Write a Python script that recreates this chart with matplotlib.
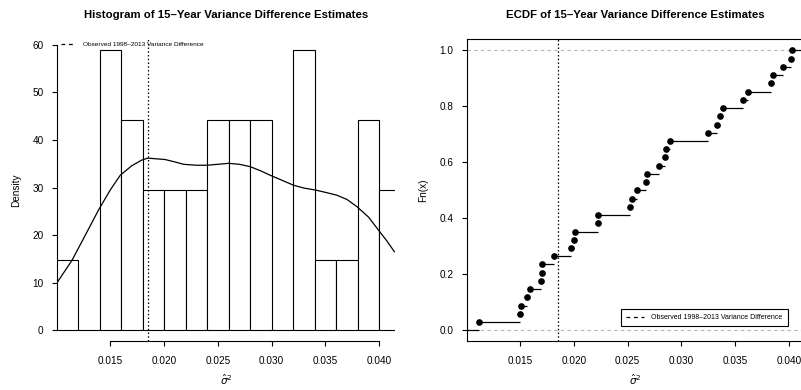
import numpy as np
import matplotlib
matplotlib.use("Agg")
import matplotlib.pyplot as plt
from matplotlib.lines import Line2D

plt.rcParams['font.family'] = ['Liberation Sans', 'DejaVu Sans']

# 34 variance difference estimates (read off the ECDF)
estimates = [0.01122, 0.01500, 0.01509, 0.01562, 0.01590, 0.01698, 0.01701,
             0.01707, 0.01813, 0.01974, 0.02005, 0.02010, 0.02222, 0.02225,
             0.02522, 0.02543, 0.02584, 0.02671, 0.02677, 0.02794, 0.02847,
             0.02856, 0.02894, 0.03249, 0.03333, 0.03355, 0.03389, 0.03575,
             0.03615, 0.03829, 0.03847, 0.03940, 0.04018, 0.04027]
observed = 0.01855

# density curve
dens_x = [0.01005, 0.01144, 0.01268, 0.01391, 0.01500, 0.01593, 0.01700,
          0.01794, 0.01850, 0.01902, 0.02010, 0.02100, 0.02181, 0.02300,
          0.02398, 0.02500, 0.02599, 0.02700, 0.02801, 0.02900, 0.02986,
          0.03100, 0.03203, 0.03300, 0.03404, 0.03500, 0.03606, 0.03700,
          0.03792, 0.03900, 0.03993, 0.04070, 0.04141]
dens_y = [10.0, 14.7, 20.0, 25.3, 29.5, 32.6, 34.6, 35.8, 36.2, 36.1, 35.9,
          35.4, 34.9, 34.7, 34.7, 34.9, 35.1, 34.9, 34.4, 33.5, 32.6, 31.5,
          30.5, 29.9, 29.5, 29.0, 28.4, 27.5, 26.0, 23.8, 21.05, 18.8, 16.5]

bin_edges = [0.010, 0.012, 0.014, 0.016, 0.018, 0.020, 0.022, 0.024, 0.026,
             0.028, 0.030, 0.032, 0.034, 0.036, 0.038, 0.040, 0.042]
xticks = [0.015, 0.020, 0.025, 0.030, 0.035, 0.040]
legend_label = "Observed 1998\u20132013 Variance Difference"

xlim = (0.01005, 0.04146)

fig = plt.figure(figsize=(8.01, 3.9), dpi=100)
ax1 = fig.add_axes([0.07116, 0.12436, 0.42197, 0.7749])
ax2 = fig.add_axes([0.58265, 0.12436, 0.42197, 0.7749])

tick_kw = dict(direction='out', length=3.6, width=0.8, labelsize=7.2, color='black')

# --- histogram
ax1.hist(estimates, bins=bin_edges, density=True, facecolor='white',
         edgecolor='black', linewidth=0.8, clip_on=True)
ax1.plot(dens_x, dens_y, color='black', lw=0.9)
ax1.axvline(observed, color='black', lw=0.9, ls=(0, (1.2, 1.8)))
ax1.set_xlim(*xlim)
ax1.set_ylim(-2.353, 61.18)
ax1.set_xticks(xticks)
ax1.set_xticklabels(["%.3f" % t for t in xticks])
ax1.set_yticks([0, 10, 20, 30, 40, 50, 60])
for s in ['top', 'right']:
    ax1.spines[s].set_visible(False)
ax1.spines['left'].set_bounds(0, 60)
ax1.spines['bottom'].set_bounds(0.015, 0.040)
for s in ['left', 'bottom']:
    ax1.spines[s].set_linewidth(0.8)
ax1.tick_params(axis='x', pad=7, **tick_kw)
ax1.tick_params(axis='y', pad=6, **tick_kw)
ax1.set_title("Histogram of 15\u2013Year Variance Difference Estimates",
              fontsize=8.2, fontweight='bold', pad=15)
ax1.set_ylabel("Density", fontsize=7.2, labelpad=8)
ax1.set_xlabel(r"$\hat{\sigma}^2$", fontsize=7.5, labelpad=5)
h = Line2D([], [], color='black', lw=0.9, ls=(0, (3, 3)))
ax1.legend([h], [legend_label], loc='upper left', bbox_to_anchor=(0.0, 1.005),
           frameon=False, fontsize=4.65, handlelength=2.4, handletextpad=1.0,
           borderaxespad=0.2)

# --- ECDF
xs = np.sort(np.array(estimates))
n = len(xs)
levels = np.arange(1, n + 1) / n
ax2.axhline(0, color='#b3b3b3', lw=0.8, ls=(0, (3, 3)))
ax2.axhline(1, color='#b3b3b3', lw=0.8, ls=(0, (3, 3)))
ax2.hlines([0] + list(levels), [xlim[0]] + list(xs), list(xs) + [xlim[1]],
           color='black', lw=0.9)
ax2.plot(xs, levels, 'o', color='black', markersize=3.8)
ax2.axvline(observed, color='black', lw=0.9, ls=(0, (1.2, 1.8)))
ax2.set_xlim(*xlim)
ax2.set_ylim(-0.04, 1.04)
ax2.set_xticks(xticks)
ax2.set_xticklabels(["%.3f" % t for t in xticks])
ax2.set_yticks([0.0, 0.2, 0.4, 0.6, 0.8, 1.0])
ax2.set_yticklabels(["0.0", "0.2", "0.4", "0.6", "0.8", "1.0"])
for s in ax2.spines.values():
    s.set_linewidth(0.8)
ax2.tick_params(axis='x', pad=7, **tick_kw)
ax2.tick_params(axis='y', pad=6, **tick_kw)
ax2.set_title("ECDF of 15\u2013Year Variance Difference Estimates",
              fontsize=8.2, fontweight='bold', pad=15)
ax2.set_ylabel("Fn(x)", fontsize=7.2, labelpad=8)
ax2.set_xlabel(r"$\hat{\sigma}^2$", fontsize=7.5, labelpad=5)
leg = ax2.legend([h], [legend_label], loc='lower right',
                 bbox_to_anchor=(0.9497, 0.0503), fontsize=5.0,
                 handlelength=2.6, handletextpad=1.0, borderaxespad=0.0,
                 fancybox=False, framealpha=1, edgecolor='black',
                 borderpad=0.75)
leg.get_frame().set_linewidth(0.8)

fig.savefig("out.png", dpi=100)
